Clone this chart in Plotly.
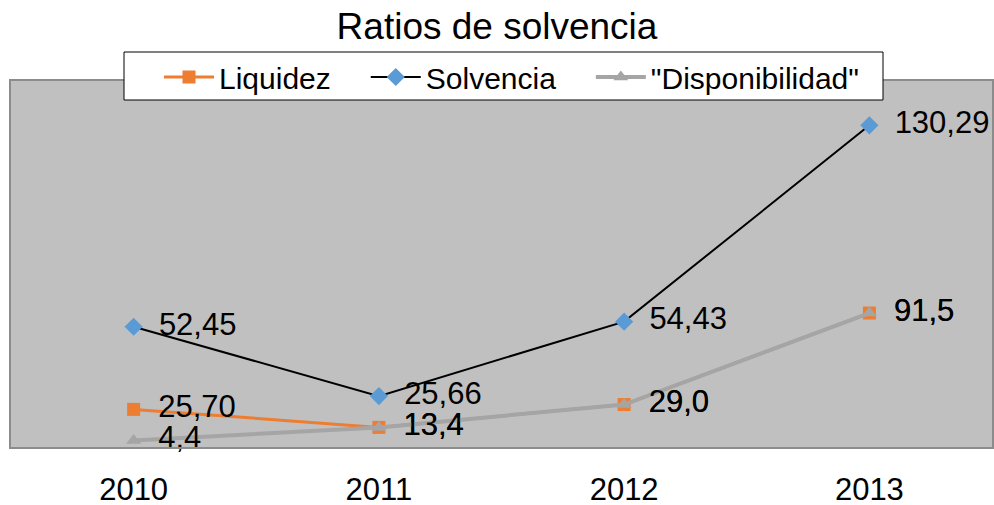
import plotly.graph_objects as go

years = ["2010", "2011", "2012", "2013"]
liquidez = [25.70, 13.4, 29.0, 91.5]
liquidez_labels = ["25,70", "13,4", "29,0", "91,5"]
solvencia = [52.45, 25.66, 54.43, 130.29]
solvencia_labels = ["52,45", "25,66", "54,43", "130,29"]
disponibilidad = [4.4, 13.4, 29.0, 91.5]
disponibilidad_labels = ["4,4", "13,4", "29,0", "91,5"]
series_names = ["Liquidez", "Solvencia", "\"Disponibilidad\""]

FONT = "Liberation Sans, Arial, sans-serif"
label_font = dict(family=FONT, size=31, color="black")
PAD = "\u2002"
GAP = "\u2003"

W, H = 994, 505
L, R, T, B = 11, 2, 81, 58
PW, PH = W - L - R, H - T - B


def px_x(p):
    return (p - L) / PW


def px_y(p):
    return (H - B - p) / PH


fig = go.Figure()
fig.add_trace(go.Scatter(
    x=years, y=liquidez, name=series_names[0] + GAP, mode="lines+markers+text",
    text=[PAD + t for t in liquidez_labels], textposition="middle right", textfont=label_font,
    line=dict(color="#ED7D31", width=3),
    marker=dict(symbol="square", size=13, color="#ED7D31"),
    yaxis="y2", cliponaxis=False))
fig.add_trace(go.Scatter(
    x=years, y=solvencia, name=series_names[1] + GAP, mode="lines+markers+text",
    text=[PAD + t for t in solvencia_labels], textposition="middle right", textfont=label_font,
    line=dict(color="black", width=2),
    marker=dict(symbol="diamond", size=14, color="#5B9BD5"),
    yaxis="y", cliponaxis=False))
fig.add_trace(go.Scatter(
    x=years, y=disponibilidad, name=series_names[2], mode="lines+markers+text",
    text=[PAD + t for t in disponibilidad_labels], textposition="middle right", textfont=label_font,
    line=dict(color="#A5A5A5", width=4),
    marker=dict(symbol="triangle-up", size=13, color="#A5A5A5"),
    yaxis="y2", cliponaxis=False))

fig.update_layout(
    width=W, height=H,
    margin=dict(l=L, r=R, t=T, b=B, autoexpand=False),
    paper_bgcolor="white", plot_bgcolor="#C0C0C0",
    font=dict(family=FONT, color="black"),
    title=dict(text="Ratios de solvencia", x=0.5, xanchor="center",
               y=1 - 26 / H, yanchor="middle", yref="container",
               font=dict(family=FONT, size=37, color="black")),
    showlegend=True,
    legend=dict(orientation="h", x=px_x(159), xanchor="left", y=px_y(51), yanchor="top",
                bgcolor="rgba(0,0,0,0)", borderwidth=0, itemwidth=50,
                font=dict(family=FONT, size=30, color="black")),
    shapes=[dict(type="rect", xref="paper", yref="paper",
                 x0=px_x(124), x1=px_x(883), y0=px_y(100), y1=px_y(52),
                 fillcolor="white", line=dict(color="black", width=1), layer="above")],
    xaxis=dict(type="category", range=[-0.5, 3.5], showgrid=False, zeroline=False,
               showline=True, linecolor="#8C8C8C", linewidth=2, mirror=True,
               ticks="outside", ticklen=14, tickcolor="rgba(0,0,0,0)", automargin=False,
               tickfont=dict(family=FONT, size=31, color="black")),
    yaxis=dict(range=[6.0, 147.4], showgrid=False, zeroline=False, showticklabels=False,
               showline=True, linecolor="#8C8C8C", linewidth=2, mirror=True, ticks="",
               automargin=False),
    yaxis2=dict(range=[0, 250], overlaying="y", side="right", showgrid=False,
                zeroline=False, showticklabels=False, showline=False, ticks=""),
)

fig.write_html("out.html", config={"displayModeBar": False},
               post_script="document.body.style.margin='0';document.body.style.padding='0';")
